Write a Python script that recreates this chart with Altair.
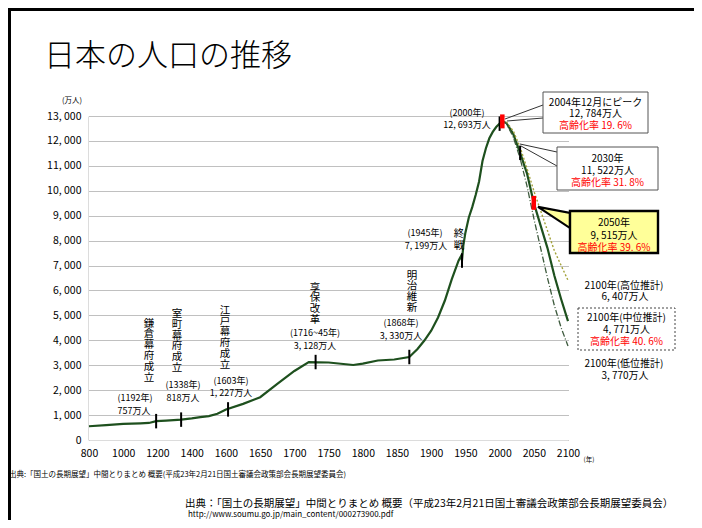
import altair as alt
import pandas as pd

FONT = "Noto Sans CJK JP"

# ---- data ----
hist_years = [800, 900, 1000, 1100, 1150, 1192, 1250, 1338, 1400, 1450, 1500, 1550, 1600,
              1625, 1650, 1675, 1700, 1721, 1750, 1786, 1800, 1822, 1846, 1868, 1880, 1890,
              1900, 1910, 1920, 1930, 1940, 1944, 1945, 1947, 1950, 1955, 1960, 1965, 1970,
              1975, 1980, 1985, 1990, 1995, 2000, 2004]
hist_pop = [551, 600, 644, 670, 684, 757, 780, 818, 870, 920, 960, 1050, 1227,
            1450, 1718, 2250, 2769, 3128, 3110, 3010, 3065, 3191, 3230, 3330, 3650, 3990,
            4385, 4918, 5596, 6445, 7193, 7400, 7199, 7810, 8320, 8928, 9342, 9828, 10372,
            11194, 11706, 12105, 12361, 12557, 12693, 12784]

proj_years = [2004, 2010, 2020, 2030, 2040, 2050, 2060, 2070, 2080, 2090, 2100]
proj_mid = [12784, 12718, 12274, 11522, 10700, 9515, 8600, 7700, 6600, 5650, 4771]
proj_high = [12784, 12750, 12400, 11750, 10900, 10000, 9200, 8400, 7600, 7000, 6407]
proj_low = [12784, 12700, 12150, 11300, 10200, 8900, 7700, 6500, 5400, 4500, 3770]

event_years = [1192, 1338, 1603, 1731, 1868, 1945, 2000, 2030]
event_pop = [757, 818, 1227, 3128, 3330, 7199, 12693, 11522]
key_years = [2004, 2050]
key_pop = [12784, 9515]

x_ticks = [800, 1000, 1200, 1400, 1600, 1650, 1700, 1750, 1800, 1850, 1900, 1950, 2000, 2050, 2100]
y_ticks = list(range(0, 13001, 1000))

# ---- layout ----
OX, OY = 88, 116          # plot origin in page pixels
W, H = 485, 324

xscale = alt.Scale(domain=[800, 1600, 2100], range=[1, 138, 480], nice=False, zero=False)
yscale = alt.Scale(domain=[0, 13000], nice=False, zero=True)

hist = pd.DataFrame({"year": hist_years, "pop": hist_pop})
proj = pd.DataFrame({"year": proj_years, "mid": proj_mid, "high": proj_high, "low": proj_low})
events = pd.DataFrame({"year": event_years, "pop": event_pop})
keys = pd.DataFrame({"year": key_years, "pop": key_pop})
one = pd.DataFrame({"k": [0]})

XAXIS = alt.Axis(values=x_ticks, format="d", ticks=False, grid=False, domainColor="#dcdcdc",
                 labelFont=FONT, labelFontSize=10.5, labelColor="black", labelPadding=8,
                 labelOverlap=False, labelFlush=False, title=None)
YAXIS = alt.Axis(values=y_ticks, labelExpr="replace(format(datum.value, ','), ',', ', ')",
                 ticks=False, grid=True, gridColor="#808080", gridDash=[1, 1],
                 domainColor="#dcdcdc", labelFont=FONT, labelFontSize=10.5,
                 labelOverlap=False, labelColor="black", labelPadding=7, title=None)


def XQ(f="year"):
    return alt.X(f + ":Q", scale=xscale, axis=XAXIS)


def YQ(f):
    return alt.Y(f + ":Q", scale=yscale, axis=YAXIS)


GREEN = "#1e501e"

base_line = alt.Chart(hist).mark_line(color=GREEN, strokeWidth=2.2).encode(x=XQ(), y=YQ("pop"))
mid_line = alt.Chart(proj).mark_line(color=GREEN, strokeWidth=2.2).encode(x=XQ(), y=YQ("mid"))
high_line = alt.Chart(proj).mark_line(color="#a3a23a", strokeWidth=1.4, strokeDash=[2, 2]).encode(
    x=XQ(), y=YQ("high"))
low_line = alt.Chart(proj).mark_line(color="#3d5a3d", strokeWidth=1.3, strokeDash=[6, 2, 1, 2]).encode(
    x=XQ(), y=YQ("low"))

ev_marks = alt.Chart(events).transform_calculate(
    lo="datum.pop - 290", hi="datum.pop + 290"
).mark_rule(color="black", strokeWidth=2).encode(x=XQ(), y=YQ("lo"), y2="hi:Q")
key_marks = alt.Chart(keys).transform_calculate(
    lo="datum.pop - 280", hi="datum.pop + 280"
).mark_rule(color="#ff0000", strokeWidth=4.5).encode(x=XQ(), y=YQ("lo"), y2="hi:Q")


def T(s, px, py, size=9, color="black", align="center", baseline="middle", weight=None):
    kw = dict(text=s, fontSize=size, color=color, align=align, baseline=baseline, font=FONT)
    if weight:
        kw["fontWeight"] = weight
    return alt.Chart(one).mark_text(**kw).encode(x=alt.value(px - OX), y=alt.value(py - OY))


def V(s, px, py_first, size=10.5, lh=10.8):
    # vertical text: one character below the other, py_first = centre of first character
    return [T(ch, px, py_first + i * lh, size=size) for i, ch in enumerate(s)]


def R(x1, y1, x2, y2, color="black", width=1.0, dash=None):
    kw = dict(color=color, strokeWidth=width)
    if dash:
        kw["strokeDash"] = dash
    return alt.Chart(one).mark_rule(**kw).encode(
        x=alt.value(x1 - OX), y=alt.value(y1 - OY), x2=alt.value(x2 - OX), y2=alt.value(y2 - OY))


def B(x1, y1, x2, y2, fill="white", stroke="#555555", width=1.0, dash=None):
    kw = dict(fill=fill, stroke=stroke, strokeWidth=width)
    if dash:
        kw["strokeDash"] = dash
    return alt.Chart(one).mark_rect(**kw).encode(
        x=alt.value(x1 - OX), y=alt.value(y1 - OY), x2=alt.value(x2 - OX), y2=alt.value(y2 - OY))


RED = "#ff0000"

layers = [
    base_line, mid_line, high_line, low_line, ev_marks, key_marks,
    # slide frame
    R(9.5, 8, 9.5, 520, width=3),
    R(8, 9.5, 694, 9.5, width=3),
    # title
    T("日本の人口の推移", 44, 57, size=31, align="left", weight=300),
    T("(万人)", 72, 101, size=7.5),
    T("(年)", 589, 460, size=6.5),
    # event labels
    *V("鎌倉幕府成立", 149, 323.5),
    T("(1192年)", 135, 398), T("757万人", 134, 410.5),
    *V("室町幕府成立", 177, 314),
    T("(1338年)", 183, 385), T("818万人", 183, 397.5),
    *V("江戸幕府成立", 225, 310.5),
    T("(1603年)", 231, 381), T("1, 227万人", 231, 392.5),
    *V("享保改革", 315, 287.5),
    T("(1716~45年)", 315, 333), T("3, 128万人", 315, 346),
    *V("明治維新", 412, 275.5),
    T("(1868年)", 401, 322.5), T("3, 330万人", 401, 336),
    *V("終戦", 459, 234, lh=11.7),
    T("(1945年)", 425, 233), T("7, 199万人", 426, 246),
    T("(2000年)", 467, 113), T("12, 693万人", 467, 125),
    # callout 2004 peak
    R(505, 119, 543, 105, color="#333333"),
    R(507, 121, 543, 118, color="#333333"),
    B(543, 92, 648, 133),
    T("2004年12月にピーク", 595.5, 102.7, size=10),
    T("12, 784万人", 595.5, 114, size=10),
    T("高齢化率 19. 6%", 595.5, 125.5, size=10, color=RED),
    # callout 2030
    R(520, 144, 557, 152, color="#333333"),
    R(521, 146, 557, 166, color="#333333"),
    B(557, 147, 658, 190),
    T("2030年", 607.5, 159.3, size=10),
    T("11, 522万人", 607.5, 171, size=10),
    T("高齢化率 31. 8%", 607.5, 182.5, size=10, color=RED),
    # callout 2050 (yellow)
    alt.Chart(one).mark_point(shape="M-1,-0.66L1,-0.28L1,0.66Z", size=1024, filled=True,
                              fill="#ffff99", stroke="black", strokeWidth=2.2,
                              fillOpacity=1, strokeOpacity=1, opacity=1).encode(
        x=alt.value(554 - OX), y=alt.value(217.5 - OY)),
    B(570, 211, 658, 253, fill="#ffff99", stroke="black", width=2.4),
    T("2050年", 614, 222.7, size=10),
    T("9, 515万人", 614, 235.5, size=10),
    T("高齢化率 39. 6%", 614, 247.5, size=10, color=RED),
    # 2100 projections
    T("2100年(高位推計)", 624, 286, size=10),
    T("6, 407万人", 625, 297, size=10),
    B(578, 308, 675, 350, stroke="#444444", width=1, dash=[2, 2]),
    T("2100年(中位推計)", 626.5, 318.3, size=10),
    T("4, 771万人", 626.5, 330, size=10),
    T("高齢化率 40. 6%", 626.5, 342, size=10, color=RED),
    T("2100年(低位推計)", 624, 363.5, size=10),
    T("3, 770万人", 625, 375.5, size=10),
    # sources
    T("出典:「国土の長期展望」中間とりまとめ 概要(平成23年2月21日国土審議会政策部会長期展望委員会)",
      9, 475, size=7.5, align="left"),
    T("出典：「国土の長期展望」中間とりまとめ 概要（平成23年2月21日国土審議会政策部会長期展望委員会）",
      185, 503.5, size=10.5, align="left"),
    T("http://www.soumu.go.jp/main_content/000273900.pdf", 188, 515, size=8, align="left"),
]

chart = alt.layer(*layers).properties(
    width=W, height=H,
    padding={"left": OX - 8, "top": OY - 8, "right": 686 - (OX - 8) - W, "bottom": 512 - (OY - 8) - H},
    autosize=alt.AutoSizeParams(type="none"),
    background="white",
).configure_view(stroke=None).configure_axis(labelOverlap=False)

chart.save("out.html", embed_options={"renderer": "svg", "actions": False})
